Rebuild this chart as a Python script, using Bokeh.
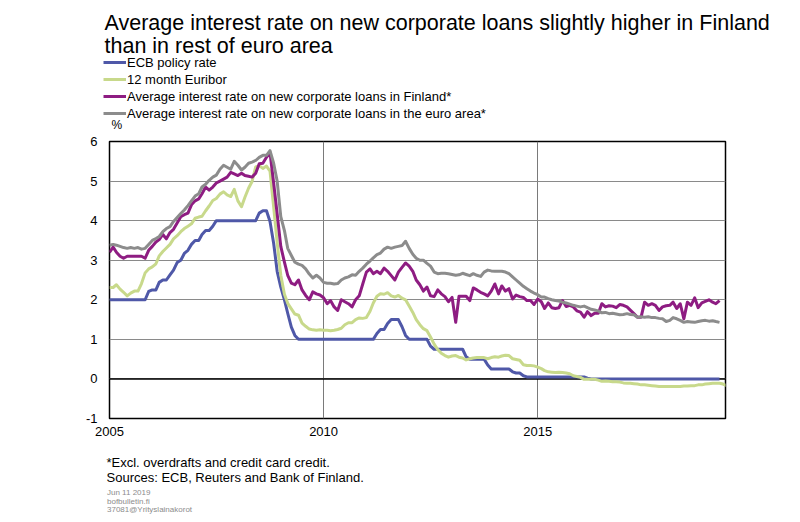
import numpy as np
import pandas as pd
from bokeh.plotting import figure
from bokeh.models import (Legend, LegendItem, Label, Span, FixedTicker,
                          DatetimeTickFormatter, Range1d, ColumnDataSource)
from bokeh.embed import file_html
from bokeh.resources import INLINE

# ---------------- data (monthly, from Jan 2005) ----------------
ecb_policy_rate = [
    2.00, 2.00, 2.00, 2.00, 2.00, 2.00, 2.00, 2.00, 2.00, 2.00, 2.00, 2.21,
    2.25, 2.25, 2.44, 2.50, 2.50, 2.63, 2.75, 2.94, 3.00, 3.17, 3.25, 3.40,
    3.50, 3.50, 3.65, 3.75, 3.75, 3.86, 4.00, 4.00, 4.00, 4.00, 4.00, 4.00,
    4.00, 4.00, 4.00, 4.00, 4.00, 4.00, 4.19, 4.25, 4.25, 3.98, 3.43, 2.72,
    2.32, 2.00, 1.66, 1.31, 1.10, 1.00, 1.00, 1.00, 1.00, 1.00, 1.00, 1.00,
    1.00, 1.00, 1.00, 1.00, 1.00, 1.00, 1.00, 1.00, 1.00, 1.00, 1.00, 1.00,
    1.00, 1.00, 1.00, 1.15, 1.25, 1.25, 1.40, 1.50, 1.50, 1.50, 1.32, 1.10,
    1.00, 1.00, 1.00, 1.00, 1.00, 1.00, 0.83, 0.75, 0.75, 0.75, 0.75, 0.75,
    0.75, 0.75, 0.75, 0.75, 0.56, 0.50, 0.50, 0.50, 0.50, 0.50, 0.35, 0.25,
    0.25, 0.25, 0.25, 0.25, 0.25, 0.18, 0.15, 0.15, 0.08, 0.05, 0.05, 0.05,
    0.05, 0.05, 0.05, 0.05, 0.05, 0.05, 0.05, 0.05, 0.05, 0.05, 0.05, 0.05,
    0.05, 0.05, 0.02, 0.00, 0.00, 0.00, 0.00, 0.00, 0.00, 0.00, 0.00, 0.00,
    0.00, 0.00, 0.00, 0.00, 0.00, 0.00, 0.00, 0.00, 0.00, 0.00, 0.00, 0.00,
    0.00, 0.00, 0.00, 0.00, 0.00, 0.00, 0.00, 0.00, 0.00, 0.00, 0.00, 0.00,
    0.00, 0.00, 0.00, 0.00,
]

euribor_12m = [
    2.31, 2.31, 2.38, 2.27, 2.19, 2.10, 2.17, 2.22, 2.22, 2.41, 2.68, 2.78,
    2.83, 2.91, 3.11, 3.22, 3.31, 3.40, 3.54, 3.62, 3.72, 3.80, 3.86, 3.92,
    4.06, 4.09, 4.11, 4.25, 4.37, 4.51, 4.56, 4.67, 4.73, 4.65, 4.61, 4.79,
    4.50, 4.35, 4.59, 4.82, 4.99, 5.36, 5.39, 5.32, 5.38, 5.25, 4.35, 3.45,
    2.62, 2.14, 1.91, 1.77, 1.64, 1.61, 1.41, 1.33, 1.26, 1.24, 1.23, 1.24,
    1.23, 1.23, 1.22, 1.23, 1.25, 1.28, 1.37, 1.42, 1.42, 1.50, 1.54, 1.53,
    1.55, 1.71, 1.92, 2.09, 2.15, 2.14, 2.18, 2.10, 2.07, 2.11, 2.04, 2.00,
    1.84, 1.68, 1.50, 1.37, 1.27, 1.22, 1.06, 0.88, 0.74, 0.65, 0.59, 0.55,
    0.58, 0.59, 0.55, 0.53, 0.48, 0.51, 0.53, 0.54, 0.54, 0.54, 0.51, 0.54,
    0.56, 0.55, 0.58, 0.60, 0.59, 0.51, 0.49, 0.47, 0.36, 0.34, 0.34, 0.33,
    0.30, 0.26, 0.21, 0.18, 0.17, 0.16, 0.17, 0.16, 0.15, 0.13, 0.08, 0.06,
    0.04, -0.01, -0.01, -0.01, -0.01, -0.03, -0.06, -0.05, -0.06, -0.07, -0.07, -0.08,
    -0.10, -0.11, -0.11, -0.12, -0.13, -0.15, -0.15, -0.16, -0.17, -0.18, -0.19, -0.19,
    -0.19, -0.19, -0.19, -0.19, -0.19, -0.18, -0.18, -0.17, -0.17, -0.15, -0.15, -0.13,
    -0.12, -0.11, -0.11, -0.11, -0.13, -0.17,
]

loans_finland = [
    3.20, 3.33, 3.20, 3.10, 3.05, 3.10, 3.10, 3.10, 3.10, 3.10, 3.05, 3.25,
    3.35, 3.46, 3.52, 3.65, 3.54, 3.70, 3.78, 3.94, 4.10, 4.15, 4.19, 4.40,
    4.50, 4.55, 4.68, 4.85, 4.77, 4.85, 4.95, 5.00, 5.05, 5.10, 5.22, 5.18,
    5.14, 5.20, 5.14, 5.12, 5.10, 5.20, 5.44, 5.45, 5.60, 5.72, 4.95, 4.17,
    3.35, 2.95, 2.62, 2.42, 2.38, 2.50, 2.25, 2.11, 2.00, 2.20, 2.15, 2.12,
    2.05, 1.90, 1.98, 1.82, 1.73, 2.00, 1.95, 1.90, 1.82, 2.00, 2.10, 2.40,
    2.70, 2.78, 2.66, 2.72, 2.66, 2.80, 2.72, 2.61, 2.50, 2.70, 2.82, 2.93,
    2.85, 2.72, 2.50, 2.38, 2.22, 2.32, 2.10, 2.08, 2.25, 2.15, 2.08, 1.95,
    2.06, 1.43, 2.09, 2.09, 2.09, 1.98, 2.30, 2.25, 2.19, 2.15, 2.10, 2.22,
    2.40, 2.15, 2.35, 2.22, 2.28, 2.02, 2.12, 2.08, 2.06, 1.98, 1.98, 1.88,
    2.02, 1.95, 1.78, 1.92, 1.80, 1.78, 1.80, 1.98, 1.83, 1.86, 1.82, 1.72,
    1.69, 1.56, 1.70, 1.60, 1.66, 1.66, 1.90, 1.82, 1.85, 1.84, 1.80, 1.88,
    1.86, 1.82, 1.74, 1.65, 1.56, 1.56, 1.94, 1.86, 1.90, 1.86, 1.73, 1.82,
    1.85, 1.86, 1.94, 1.78, 1.90, 1.52, 1.94, 1.86, 2.05, 1.80, 1.92, 1.96,
    2.00, 1.94, 1.90, 1.98,
]

loans_euro_area = [
    3.38, 3.40, 3.38, 3.35, 3.32, 3.30, 3.32, 3.30, 3.32, 3.28, 3.30, 3.40,
    3.50, 3.55, 3.60, 3.72, 3.80, 3.85, 3.98, 4.08, 4.18, 4.27, 4.38, 4.50,
    4.62, 4.68, 4.85, 4.92, 5.02, 5.10, 5.15, 5.30, 5.40, 5.35, 5.30, 5.50,
    5.40, 5.28, 5.35, 5.45, 5.48, 5.52, 5.60, 5.65, 5.65, 5.77, 5.45, 5.00,
    4.10, 3.75, 3.30, 3.12, 2.95, 2.90, 2.87, 2.78, 2.65, 2.55, 2.62, 2.55,
    2.44, 2.42, 2.42, 2.40, 2.41, 2.50, 2.55, 2.58, 2.63, 2.62, 2.72, 2.80,
    2.90, 2.98, 3.06, 3.14, 3.18, 3.28, 3.33, 3.30, 3.33, 3.35, 3.37, 3.48,
    3.30, 3.15, 3.05, 3.00, 3.00, 2.92, 2.85, 2.70, 2.66, 2.67, 2.67, 2.66,
    2.64, 2.62, 2.63, 2.67, 2.64, 2.61, 2.66, 2.62, 2.59, 2.70, 2.75, 2.73,
    2.72, 2.72, 2.72, 2.70, 2.66, 2.58, 2.50, 2.42, 2.34, 2.28, 2.22, 2.17,
    2.13, 2.07, 2.07, 2.03, 2.00, 1.98, 1.97, 1.94, 1.92, 1.89, 1.86, 1.84,
    1.82, 1.84, 1.80, 1.76, 1.74, 1.72, 1.67, 1.68, 1.65, 1.66, 1.64, 1.62,
    1.63, 1.65, 1.63, 1.62, 1.56, 1.57, 1.56, 1.57, 1.55, 1.55, 1.53, 1.52,
    1.45, 1.48, 1.55, 1.52, 1.48, 1.43, 1.45, 1.44, 1.43, 1.45, 1.47, 1.48,
    1.46, 1.47, 1.45, 1.43,
]

series_labels = [
    "ECB policy rate",
    "12 month Euribor",
    "Average interest rate on new corporate loans in Finland*",
    "Average interest rate on new corporate loans in the euro area*",
]
series_colors = ["#4F58A8", "#C8D98B", "#8E1C82", "#8C8C8C"]
x_tick_years = [2005, 2010, 2015]
y_ticks = [-1, 0, 1, 2, 3, 4, 5, 6]

title_lines = ["Average interest rate on new corporate loans slightly higher in Finland",
               "than in rest of euro area"]
unit_label = "%"
footnotes = ["*Excl. overdrafts and credit card credit.",
             "Sources: ECB, Reuters and Bank of Finland."]
small_notes = ["Jun 11 2019", "bofbulletin.fi", "37081@Yrityslainakorot"]

FONT = "Liberation Sans"
W = 800
HEAD_H = 135
MAIN_H = 313
FOOT_H = 522 - HEAD_H - MAIN_H


def months(n):
    return pd.date_range("2005-01-01", periods=n, freq="MS")


def blank_figure(height, y0):
    """A figure whose frame fills its canvas, in page-pixel units."""
    f = figure(width=W, height=height, output_backend="svg", toolbar_location=None,
               x_range=Range1d(0, W), y_range=Range1d(y0 + height, y0),
               x_axis_location=None, y_axis_location=None,
               min_border=0, min_border_left=0, min_border_right=0,
               min_border_top=0, min_border_bottom=0)
    f.outline_line_color = None
    f.grid.grid_line_color = None
    f.background_fill_color = "white"
    f.border_fill_color = "white"
    return f


def add_text(f, txt, x, y, size, color="black"):
    f.add_layout(Label(x=x, y=y, text=txt, text_font=FONT, text_font_size=size,
                       text_color=color, text_baseline="alphabetic",
                       text_align="left"))


# ---------------- header: title + legend ----------------
head = blank_figure(HEAD_H, 0)
add_text(head, title_lines[0], 104, 22, "21.5px")
add_text(head, title_lines[1], 104, 45, "21.5px")
add_text(head, unit_label, 111, 124, "12px")

swatches = [head.line(x=[np.nan], y=[np.nan], line_color=c, line_width=3)
            for c in series_colors]
legend = Legend(items=[LegendItem(label=l, renderers=[r])
                       for l, r in zip(series_labels, swatches)],
                location=(103, 14), orientation="vertical",
                padding=0, margin=0, spacing=1,
                label_height=16, glyph_height=16, glyph_width=23,
                label_standoff=1,
                label_text_font=FONT, label_text_font_size="13px",
                label_text_color="black",
                border_line_alpha=0, background_fill_alpha=0)
head.add_layout(legend)

# ---------------- main chart ----------------
p = figure(width=W, height=MAIN_H, output_backend="svg", toolbar_location=None,
           x_axis_type="datetime",
           x_range=Range1d(pd.Timestamp("2005-01-01"), pd.Timestamp("2019-05-22")),
           y_range=Range1d(-1, 6),
           min_border_left=109, min_border_right=75,
           min_border_top=6, min_border_bottom=30)

p.background_fill_color = "white"
p.border_fill_color = "white"
p.outline_line_color = "black"
p.outline_line_width = 1.5

tick_ms = [pd.Timestamp(f"{y}-01-01").value // 10**6 for y in x_tick_years]
p.xaxis.ticker = FixedTicker(ticks=tick_ms)
p.xaxis.formatter = DatetimeTickFormatter(years="%Y", months="%Y", days="%Y")
p.xaxis.major_label_text_align = "left"
p.yaxis.ticker = FixedTicker(ticks=y_ticks)
p.yaxis.major_label_overrides = {t: str(t) for t in y_ticks}
p.xgrid.ticker = FixedTicker(ticks=tick_ms)

for ax in (p.xaxis[0], p.yaxis[0]):
    ax.axis_line_color = None
    ax.major_tick_line_color = None
    ax.minor_tick_line_color = None
    ax.major_tick_out = 0
    ax.major_tick_in = 0
    ax.major_label_text_font = FONT
    ax.major_label_text_font_size = "13px"
    ax.major_label_text_color = "black"
p.xaxis.major_label_standoff = 8
p.yaxis.major_label_standoff = 12

p.xgrid.grid_line_color = "#7a7a7a"
p.ygrid.grid_line_color = "#8a8a8a"
p.xgrid.grid_line_width = 1
p.ygrid.grid_line_width = 1

p.add_layout(Span(location=0, dimension="width", line_color="black",
                  line_width=1.5, level="underlay"))

all_series = [ecb_policy_rate, euribor_12m, loans_finland, loans_euro_area]
for vals, col in zip(all_series, series_colors):
    src = ColumnDataSource(dict(x=months(len(vals)), y=vals))
    p.line("x", "y", source=src, line_color=col, line_width=3, line_join="round")

# ---------------- footer ----------------
foot = blank_figure(FOOT_H, HEAD_H + MAIN_H)
add_text(foot, footnotes[0], 106, 462, "13px")
add_text(foot, footnotes[1], 106, 477, "13px")
for txt, yy in zip(small_notes, [492, 500.5, 508.5]):
    add_text(foot, txt, 106.5, yy, "8px", "#8c8c8c")

open("out.html", "w").write(file_html([head, p, foot], INLINE))
